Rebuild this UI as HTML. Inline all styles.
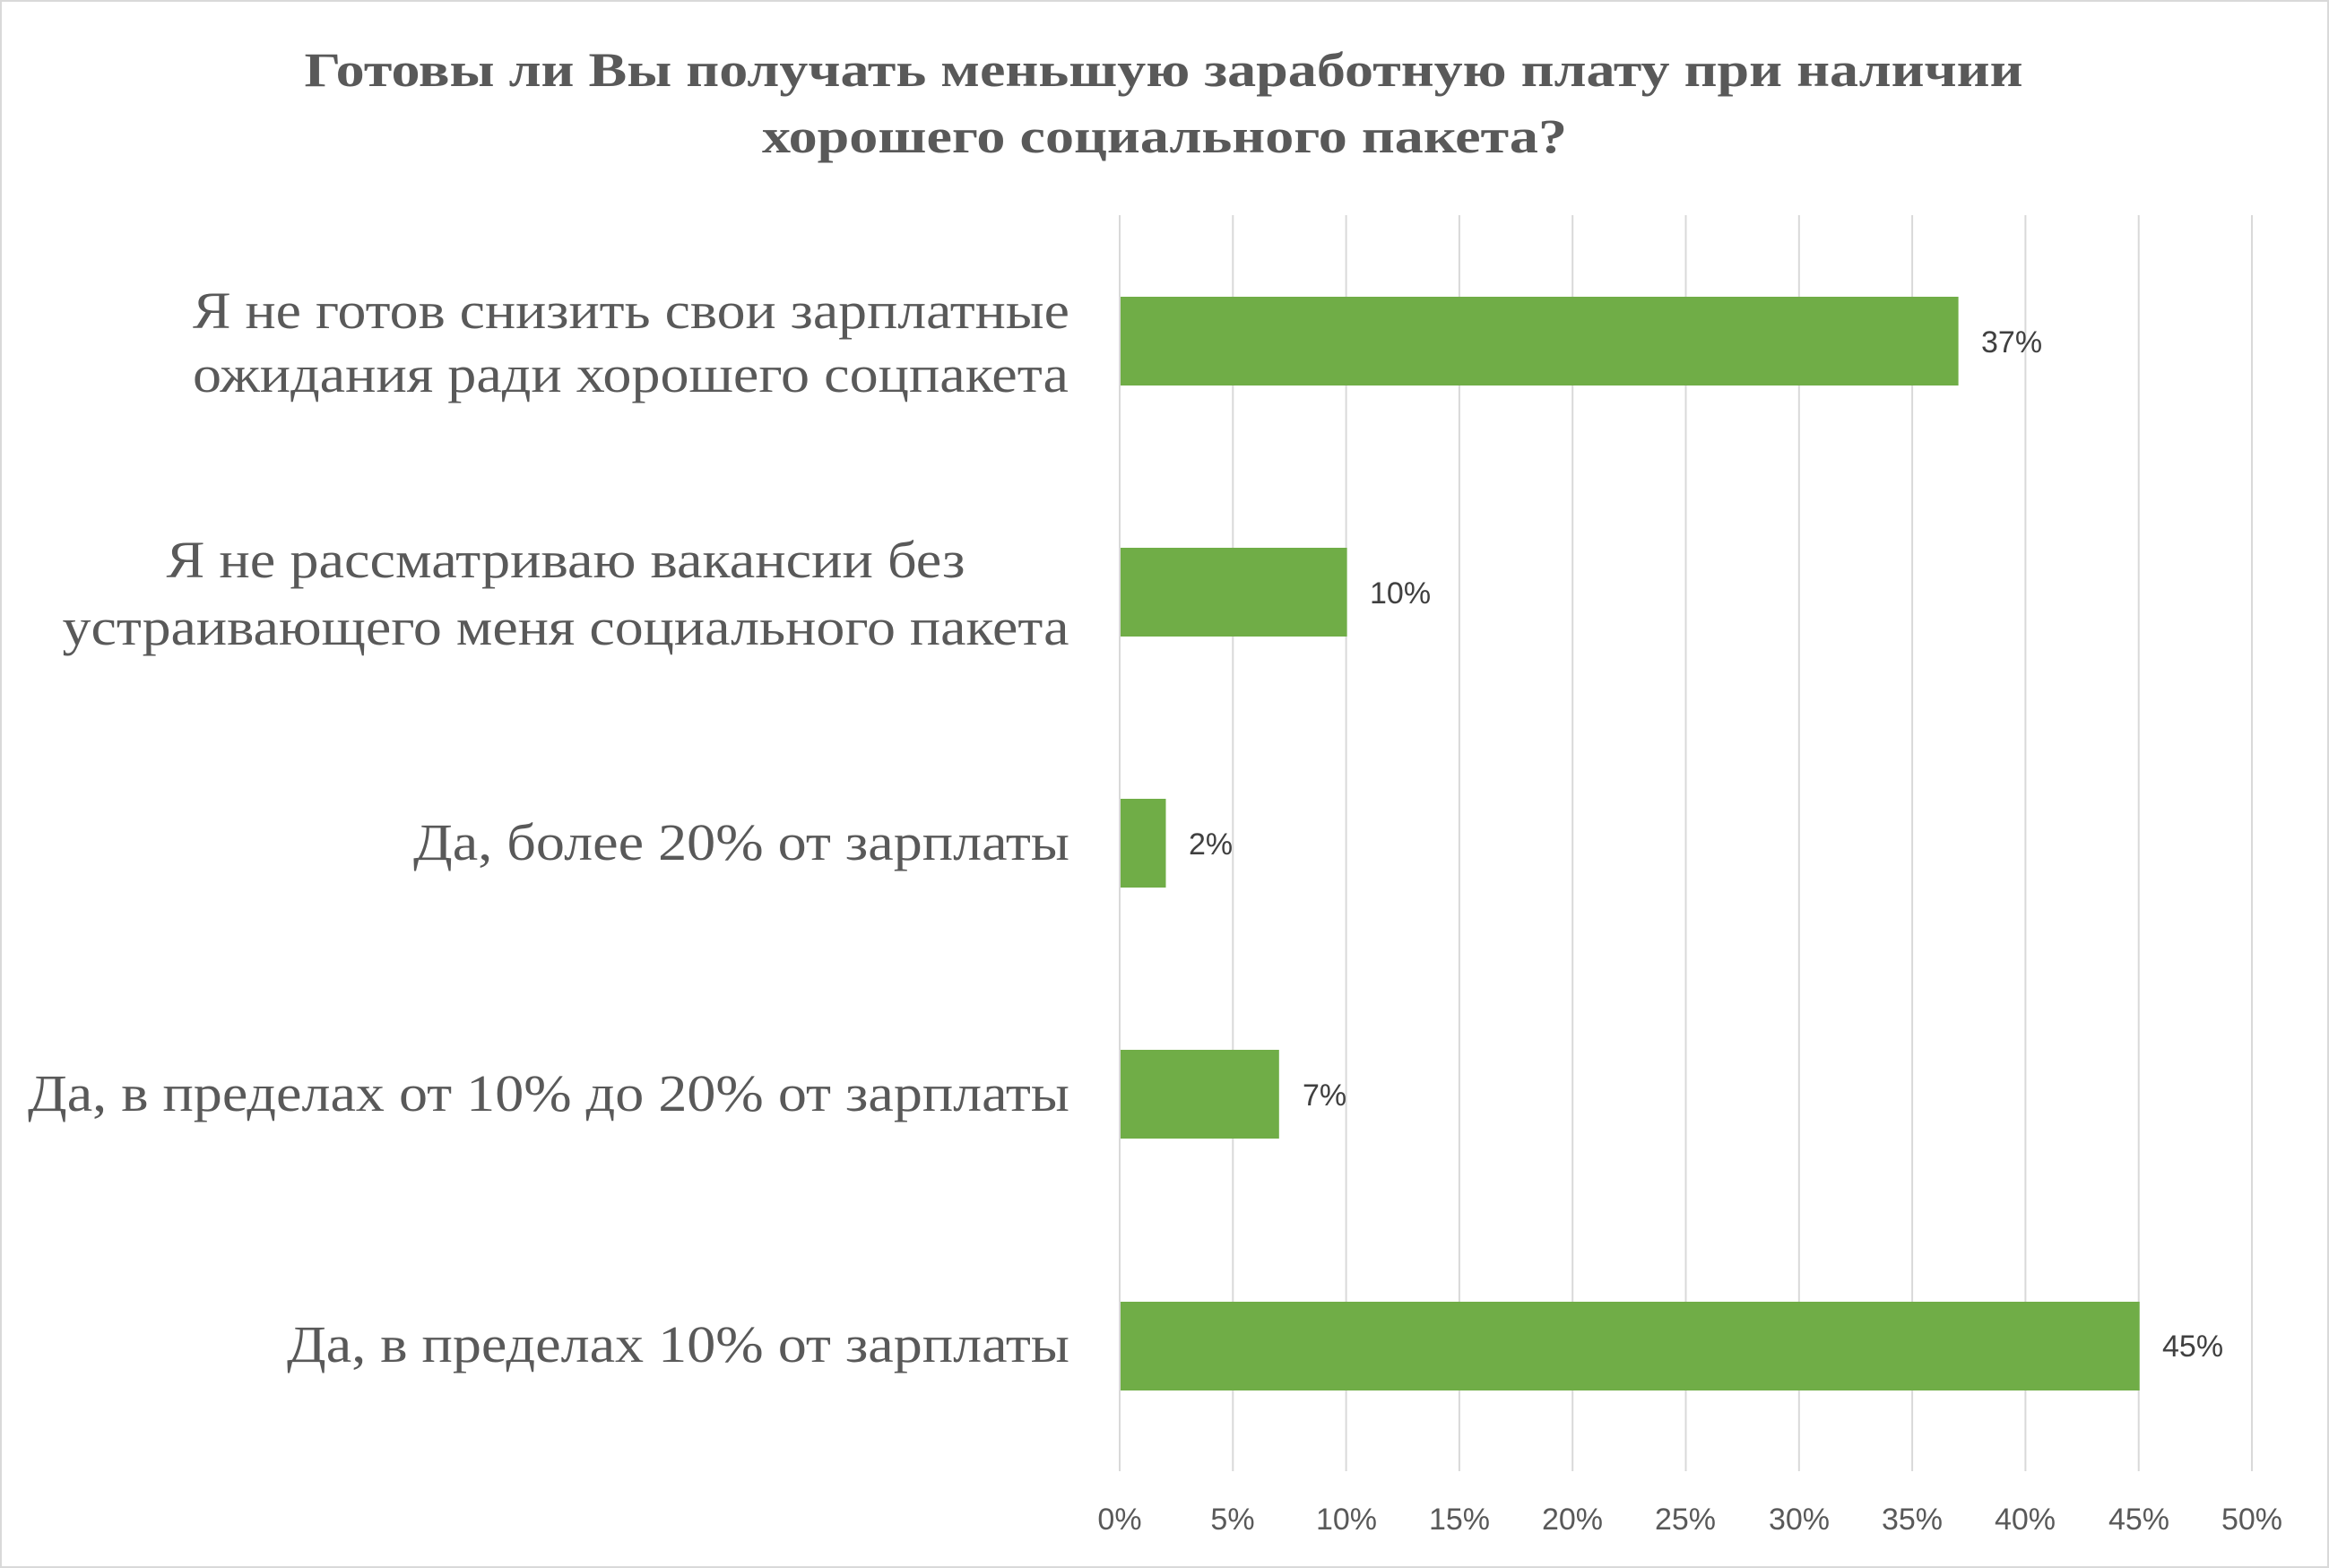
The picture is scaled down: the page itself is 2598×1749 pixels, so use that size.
<!DOCTYPE html>
<html><head><meta charset="utf-8"><style>html,body{margin:0;padding:0;background:#fff}svg{display:block}</style></head>
<body>
<svg width="2598" height="1749" viewBox="0 0 2598 1749" xmlns="http://www.w3.org/2000/svg">
<rect x="1" y="1" width="2596" height="1747" fill="#fff" stroke="#d9d9d9" stroke-width="2"/>
<g font-family="Liberation Serif, serif" font-weight="bold" fill="#595959" font-size="54" text-anchor="middle">
<text x="1298" y="96" textLength="1917" lengthAdjust="spacingAndGlyphs">Готовы ли Вы получать меньшую заработную плату при наличии</text>
<text x="1299" y="170" textLength="898" lengthAdjust="spacingAndGlyphs">хорошего социального пакета?</text>
</g>
<g stroke="#d9d9d9" stroke-width="2">
<line x1="1249" y1="240" x2="1249" y2="1641"/>
<line x1="1375.3" y1="240" x2="1375.3" y2="1641"/>
<line x1="1501.6" y1="240" x2="1501.6" y2="1641"/>
<line x1="1627.9" y1="240" x2="1627.9" y2="1641"/>
<line x1="1754.2" y1="240" x2="1754.2" y2="1641"/>
<line x1="1880.5" y1="240" x2="1880.5" y2="1641"/>
<line x1="2006.8" y1="240" x2="2006.8" y2="1641"/>
<line x1="2133.1" y1="240" x2="2133.1" y2="1641"/>
<line x1="2259.4" y1="240" x2="2259.4" y2="1641"/>
<line x1="2385.7" y1="240" x2="2385.7" y2="1641"/>
<line x1="2512" y1="240" x2="2512" y2="1641"/>
</g>
<g fill="#70ad47">
<rect x="1250" y="331" width="934.6" height="99"/>
<rect x="1250" y="611" width="252.6" height="99"/>
<rect x="1250" y="891" width="50.5" height="99"/>
<rect x="1250" y="1171" width="176.8" height="99"/>
<rect x="1250" y="1452" width="1136.7" height="99"/>
</g>
<g font-family="Liberation Sans, sans-serif" fill="#404040" font-size="34">
<text x="2210" y="393">37%</text>
<text x="1528" y="673">10%</text>
<text x="1326" y="953">2%</text>
<text x="1453" y="1233">7%</text>
<text x="2412" y="1513">45%</text>
</g>
<g font-family="Liberation Sans, sans-serif" fill="#595959" font-size="34" text-anchor="middle">
<text x="1249" y="1706">0%</text><text x="1375" y="1706">5%</text><text x="1502" y="1706">10%</text><text x="1628" y="1706">15%</text><text x="1754" y="1706">20%</text><text x="1880" y="1706">25%</text><text x="2007" y="1706">30%</text><text x="2133" y="1706">35%</text><text x="2259" y="1706">40%</text><text x="2386" y="1706">45%</text><text x="2512" y="1706">50%</text>
</g>
<g font-family="Liberation Serif, serif" fill="#595959" font-size="58">
<text x="1193" y="366" text-anchor="end" textLength="978" lengthAdjust="spacingAndGlyphs">Я не готов снизить свои зарплатные</text>
<text x="1192" y="437" text-anchor="end" textLength="977" lengthAdjust="spacingAndGlyphs">ожидания ради хорошего соцпакета</text>
<text x="631" y="644" text-anchor="middle" textLength="891" lengthAdjust="spacingAndGlyphs">Я не рассматриваю вакансии без</text>
<text x="631" y="719" text-anchor="middle" textLength="1123" lengthAdjust="spacingAndGlyphs">устраивающего меня социального пакета</text>
<text x="1193" y="959" text-anchor="end" textLength="732" lengthAdjust="spacingAndGlyphs">Да, более 20% от зарплаты</text>
<text x="1193" y="1239" text-anchor="end" textLength="1162" lengthAdjust="spacingAndGlyphs">Да, в пределах от 10% до 20% от зарплаты</text>
<text x="1193" y="1519" text-anchor="end" textLength="873" lengthAdjust="spacingAndGlyphs">Да, в пределах 10% от зарплаты</text>
</g>
</svg>
</body></html>
